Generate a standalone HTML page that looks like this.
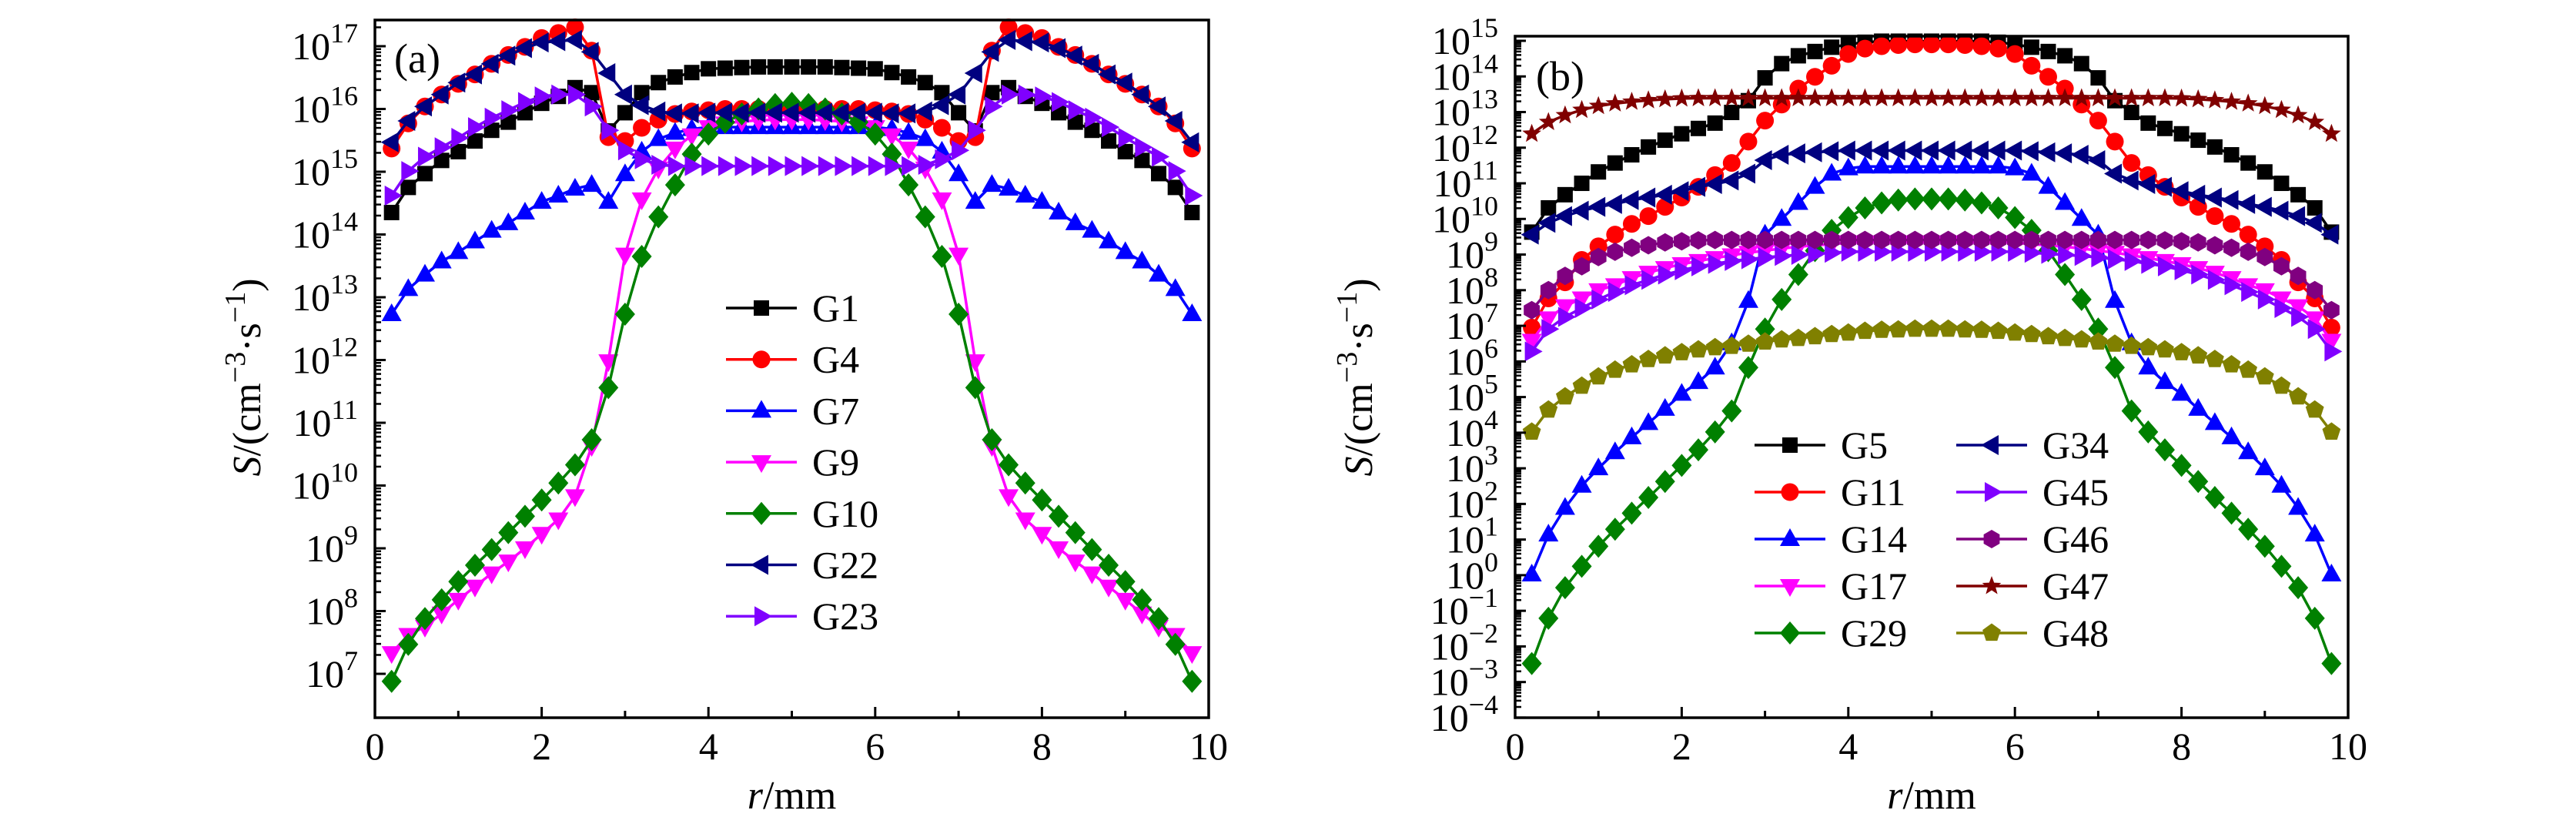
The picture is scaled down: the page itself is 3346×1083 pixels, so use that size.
<!DOCTYPE html>
<html><head><meta charset="utf-8"><style>
html,body{margin:0;padding:0;background:#fff;}
svg{display:block;}
svg text{font-family:"Liberation Serif","DejaVu Serif",serif;}
</style></head><body>
<svg id="fig" width="3346" height="1083" viewBox="0 0 3346 1083" xmlns="http://www.w3.org/2000/svg" font-family="Liberation Serif, DejaVu Serif, serif">
<rect x="0" y="0" width="3346" height="1083" fill="#fff"/>
<g id="pa"></g>
<g id="pb"></g>
</svg>
<script>
const NS="http://www.w3.org/2000/svg";
const FONT="Liberation Serif, DejaVu Serif, serif";
const rVals=[0.2,0.4,0.6,0.8,1.0,1.2,1.4,1.6,1.8,2.0,2.2,2.4,2.6,2.8,3.0,3.2,3.4,3.6,3.8,4.0,4.2,4.4,4.6,4.8,5.0,5.2,5.4,5.6,5.8,6.0,6.2,6.4,6.6,6.8,7.0,7.2,7.4,7.6,7.8,8.0,8.2,8.4,8.6,8.8,9.0,9.2,9.4,9.6,9.8];
const xTicks=[0,2,4,6,8,10];
// panel a: log10(S)
const aG1=[14.35,14.75,14.97,15.18,15.32,15.49,15.66,15.79,15.94,16.09,16.2,16.34,16.26,15.65,15.94,16.26,16.42,16.51,16.58,16.64,16.65,16.66,16.67,16.67,16.67,16.67,16.67,16.66,16.65,16.64,16.58,16.51,16.42,16.26,15.94,15.65,16.26,16.34,16.2,16.09,15.94,15.79,15.66,15.49,15.32,15.18,14.97,14.75,14.35];
const aG4=[15.37,15.77,16.04,16.23,16.4,16.55,16.72,16.86,16.99,17.13,17.21,17.3,16.93,15.55,15.49,15.7,15.83,15.92,15.96,15.98,16,16,16,16,16,16,16,16,16,15.98,15.96,15.92,15.83,15.7,15.49,15.55,16.93,17.3,17.21,17.13,16.99,16.86,16.72,16.55,16.4,16.23,16.04,15.77,15.37];
const aG7=[12.73,13.13,13.36,13.57,13.72,13.89,14.06,14.18,14.35,14.52,14.62,14.73,14.79,14.52,14.96,15.32,15.52,15.62,15.68,15.71,15.71,15.71,15.71,15.71,15.71,15.71,15.71,15.71,15.71,15.71,15.68,15.62,15.52,15.32,14.96,14.52,14.79,14.73,14.62,14.52,14.35,14.18,14.06,13.89,13.72,13.57,13.36,13.13,12.73];
const aG9=[7.33,7.62,7.75,7.96,8.18,8.39,8.6,8.79,9.0,9.23,9.46,9.83,10.63,11.98,13.68,14.56,15.05,15.37,15.58,15.71,15.77,15.8,15.82,15.83,15.83,15.83,15.82,15.8,15.77,15.71,15.58,15.37,15.05,14.56,13.68,11.98,10.63,9.83,9.46,9.23,9.0,8.79,8.6,8.39,8.18,7.96,7.75,7.62,7.33];
const aG10=[6.88,7.47,7.88,8.18,8.47,8.73,8.98,9.25,9.51,9.77,10.04,10.33,10.73,11.56,12.73,13.65,14.28,14.79,15.28,15.6,15.79,15.92,16.0,16.07,16.09,16.07,16.0,15.92,15.79,15.6,15.28,14.79,14.28,13.65,12.73,11.56,10.73,10.33,10.04,9.77,9.51,9.25,8.98,8.73,8.47,8.18,7.88,7.47,6.88];
const aG22=[15.47,15.81,16.04,16.23,16.42,16.55,16.72,16.85,16.97,17.06,17.08,17.1,16.91,16.57,16.23,16.06,15.96,15.93,15.93,15.94,15.94,15.94,15.94,15.94,15.94,15.94,15.94,15.94,15.94,15.94,15.93,15.93,15.96,16.06,16.23,16.57,16.91,17.1,17.08,17.06,16.97,16.85,16.72,16.55,16.42,16.23,16.04,15.81,15.47];
const aG23=[14.62,15.01,15.24,15.39,15.54,15.71,15.86,15.98,16.11,16.2,16.23,16.23,16.04,15.66,15.34,15.2,15.11,15.09,15.09,15.09,15.09,15.09,15.09,15.09,15.09,15.09,15.09,15.09,15.09,15.09,15.09,15.09,15.11,15.2,15.34,15.66,16.04,16.23,16.23,16.2,16.11,15.98,15.86,15.71,15.54,15.39,15.24,15.01,14.62];
// panel b: log10(S)
const bG5=[9.63,10.31,10.68,11.0,11.32,11.57,11.8,12.02,12.21,12.39,12.54,12.69,12.99,13.32,13.96,14.36,14.58,14.7,14.82,14.9,14.96,14.99,14.99,14.99,14.99,14.99,14.99,14.99,14.96,14.9,14.82,14.7,14.58,14.36,13.96,13.32,12.99,12.69,12.54,12.39,12.21,12.02,11.8,11.57,11.32,11.0,10.68,10.31,9.63];
const bG11=[6.95,7.77,8.22,8.85,9.23,9.56,9.86,10.08,10.34,10.6,10.9,11.23,11.57,12.17,12.76,13.21,13.66,13.99,14.3,14.63,14.78,14.85,14.88,14.9,14.9,14.9,14.88,14.85,14.78,14.63,14.3,13.99,13.66,13.21,12.76,12.17,11.57,11.23,10.9,10.6,10.34,10.08,9.86,9.56,9.23,8.85,8.22,7.77,6.95];
const bG14=[0.02,1.14,1.89,2.51,3.0,3.45,3.87,4.27,4.67,5.09,5.42,5.83,6.51,7.7,9.56,10.0,10.45,10.9,11.27,11.42,11.47,11.47,11.47,11.47,11.47,11.47,11.47,11.47,11.47,11.42,11.27,10.9,10.45,10.0,9.56,7.7,6.51,5.83,5.42,5.09,4.67,4.27,3.87,3.45,3.0,2.51,1.89,1.14,0.02];
const bG17=[6.58,7.21,7.55,7.77,8.0,8.14,8.34,8.49,8.62,8.73,8.82,8.9,8.98,9.05,9.11,9.17,9.22,9.26,9.29,9.34,9.34,9.34,9.34,9.34,9.34,9.34,9.34,9.34,9.34,9.34,9.29,9.26,9.22,9.17,9.11,9.05,8.98,8.9,8.82,8.73,8.62,8.49,8.34,8.14,8.0,7.77,7.55,7.21,6.58];
const bG29=[-2.48,-1.21,-0.35,0.25,0.81,1.29,1.74,2.18,2.63,3.08,3.52,4.02,4.61,5.83,6.91,7.74,8.44,9.11,9.68,10.04,10.31,10.45,10.53,10.56,10.56,10.56,10.53,10.45,10.31,10.04,9.68,9.11,8.44,7.74,6.91,5.83,4.61,4.02,3.52,3.08,2.63,2.18,1.74,1.29,0.81,0.25,-0.35,-1.21,-2.48];
const bG34=[9.56,9.89,10.08,10.23,10.34,10.42,10.53,10.6,10.68,10.78,10.9,10.98,11.08,11.27,11.65,11.8,11.84,11.87,11.9,11.92,11.92,11.92,11.92,11.92,11.92,11.92,11.92,11.92,11.92,11.92,11.9,11.87,11.84,11.8,11.65,11.27,11.08,10.98,10.9,10.78,10.68,10.6,10.53,10.42,10.34,10.23,10.08,9.89,9.56];
const bG45=[6.28,6.91,7.25,7.5,7.74,7.95,8.14,8.29,8.44,8.56,8.67,8.74,8.82,8.87,8.92,8.96,8.99,9.02,9.05,9.08,9.08,9.08,9.08,9.08,9.08,9.08,9.08,9.08,9.08,9.08,9.05,9.02,8.99,8.96,8.92,8.87,8.82,8.74,8.67,8.56,8.44,8.29,8.14,7.95,7.74,7.5,7.25,6.91,6.28];
const bG46=[7.44,8.0,8.4,8.67,8.93,9.08,9.19,9.26,9.34,9.37,9.4,9.41,9.41,9.41,9.41,9.41,9.41,9.41,9.41,9.41,9.41,9.41,9.41,9.41,9.41,9.41,9.41,9.41,9.41,9.41,9.41,9.41,9.41,9.41,9.41,9.41,9.41,9.41,9.4,9.37,9.34,9.26,9.19,9.08,8.93,8.67,8.4,8.0,7.44];
const bG47=[12.39,12.72,12.91,13.06,13.17,13.24,13.29,13.33,13.36,13.38,13.39,13.39,13.39,13.39,13.39,13.39,13.39,13.39,13.39,13.39,13.39,13.39,13.39,13.39,13.39,13.39,13.39,13.39,13.39,13.39,13.39,13.39,13.39,13.39,13.39,13.39,13.39,13.39,13.39,13.38,13.36,13.33,13.29,13.24,13.17,13.06,12.91,12.72,12.39];
const bG48=[4.02,4.64,5.01,5.31,5.57,5.76,5.91,6.06,6.16,6.25,6.33,6.39,6.43,6.49,6.55,6.61,6.65,6.7,6.76,6.8,6.85,6.88,6.89,6.91,6.91,6.91,6.89,6.88,6.85,6.8,6.76,6.7,6.65,6.61,6.55,6.49,6.43,6.39,6.33,6.25,6.16,6.06,5.91,5.76,5.57,5.31,5.01,4.64,4.02];
const aYTicks=[7,8,9,10,11,12,13,14,15,16,17];
const bYTicks=[-4,-3,-2,-1,0,1,2,3,4,5,6,7,8,9,10,11,12,13,14,15];

function el(tag,attrs,parent){const e=document.createElementNS(NS,tag);for(const k in attrs)e.setAttribute(k,attrs[k]);if(tag==='text')e.setAttribute('font-family',FONT);if(parent)parent.appendChild(e);return e;}

function marker(g,type,x,y,color){
  let e;
  if(type==='sq'){e=el('rect',{x:x-10,y:y-10,width:20,height:20,fill:color},g);}
  else if(type==='ci'){e=el('circle',{cx:x,cy:y,r:11.5,fill:color},g);}
  else if(type==='up'){e=el('polygon',{points:`${x},${y-14} ${x+13},${y+9} ${x-13},${y+9}`,fill:color},g);}
  else if(type==='dn'){e=el('polygon',{points:`${x},${y+14} ${x+13},${y-9} ${x-13},${y-9}`,fill:color},g);}
  else if(type==='lt'){e=el('polygon',{points:`${x-14},${y} ${x+9},${y-13} ${x+9},${y+13}`,fill:color},g);}
  else if(type==='rt'){e=el('polygon',{points:`${x+14},${y} ${x-9},${y-13} ${x-9},${y+13}`,fill:color},g);}
  else if(type==='di'){e=el('polygon',{points:`${x},${y-15} ${x+13},${y} ${x},${y+15} ${x-13},${y}`,fill:color},g);}
  else {
    let pts=[];
    if(type==='st'){for(let i=0;i<10;i++){const a=-Math.PI/2+i*Math.PI/5;const rr=i%2?5.5:13;pts.push((x+rr*Math.cos(a)).toFixed(1)+','+(y+rr*Math.sin(a)).toFixed(1));}}
    else if(type==='pe'){for(let i=0;i<5;i++){const a=-Math.PI/2+i*2*Math.PI/5;pts.push((x+12.5*Math.cos(a)).toFixed(1)+','+(y+12.5*Math.sin(a)).toFixed(1));}}
    else {for(let i=0;i<6;i++){const a=-Math.PI/2+i*Math.PI/3;pts.push((x+12*Math.cos(a)).toFixed(1)+','+(y+12*Math.sin(a)).toFixed(1));}}
    e=el('polygon',{points:pts.join(' '),fill:color},g);
  }
  
  
}

function panel(gid,cfg){
  const g=document.getElementById(gid);
  const X=r=>cfg.x0+(r-0)*(cfg.x1-cfg.x0)/10;
  const Y=L=>cfg.yRef+(cfg.LRef-L)*cfg.dec;
  cfg.series.forEach(s=>{
    const sg=el('g',{},g);
    
    
    const d=rVals.map((r,i)=>(i?'L':'M')+X(r).toFixed(1)+','+Y(s.v[i]).toFixed(1)).join('');
    const p=el('path',{d:d,fill:'none',stroke:s.c,'stroke-width':3.5},sg);
    
    
    rVals.forEach((r,i)=>marker(sg,s.m,X(r),Y(s.v[i]),s.c));
  });
  const fr=el('rect',{x:cfg.x0,y:cfg.top,width:cfg.x1-cfg.x0,height:cfg.bot-cfg.top,fill:'none',stroke:'#000','stroke-width':3.5},g);
  
  
  for(let r=1;r<10;r++){
    const len=(r%2===0)?14:9;
    el('line',{x1:X(r),y1:cfg.bot,x2:X(r),y2:cfg.bot-len,stroke:'#000','stroke-width':3},g);
  }
  xTicks.forEach(t=>{
    const tx=el('text',{x:X(t),y:cfg.bot+54,'text-anchor':'middle','font-size':50},g);
    tx.textContent=t;
    
    
  });
  cfg.yTicks.forEach((t,i)=>{
    const y=Y(t);
    el('line',{x1:cfg.x0,y1:y,x2:cfg.x0+14,y2:y,stroke:'#000','stroke-width':3},g);
    for(let k=2;k<=9;k++){const ym=y-Math.log10(k)*cfg.dec;if(ym>cfg.top)el('line',{x1:cfg.x0,y1:ym,x2:cfg.x0+8,y2:ym,stroke:'#000','stroke-width':2.5},g);}
    const tx=el('text',{x:cfg.x0-22,y:y+17,'text-anchor':'end','font-size':50},g);
    
    
    const a=el('tspan',{},tx);a.textContent='10';
    const b=el('tspan',{dy:-22,'font-size':36},tx);b.textContent=(t<0?'\u2212'+(-t):String(t));
  });
  const yt=el('text',{x:0,y:0,transform:`translate(${cfg.ylx},490) rotate(-90)`,'text-anchor':'middle','font-size':52},g);
  
  
  let t1=el('tspan',{'font-style':'italic'},yt);t1.textContent='S';
  let t2=el('tspan',{},yt);t2.textContent='/(cm';
  let t3=el('tspan',{dy:-20,'font-size':38},yt);t3.textContent='\u22123';
  let t4=el('tspan',{dy:20},yt);t4.textContent='\u00b7s';
  let t5=el('tspan',{dy:-20,'font-size':38},yt);t5.textContent='\u22121';
  let t6=el('tspan',{dy:20},yt);t6.textContent=')';
  const xt=el('text',{x:(cfg.x0+cfg.x1)/2,y:1050,'text-anchor':'middle','font-size':52},g);
  
  
  let u1=el('tspan',{'font-style':'italic'},xt);u1.textContent='r';
  let u2=el('tspan',{},xt);u2.textContent='/mm';
  const pl=el('text',{x:cfg.plx,y:cfg.ply,'font-size':54},g);
  pl.textContent=cfg.label;
  
  
  const lg=el('g',{},g);
  
  
  cfg.series.forEach((s,i)=>{
    const col=Math.floor(i/cfg.legRows),row=i%cfg.legRows;
    const lx=cfg.legX+col*cfg.legColW, ly=cfg.legY+row*cfg.legDy;
    const eg=el('g',{},lg);
    
    
    el('line',{x1:lx,y1:ly,x2:lx+92,y2:ly,stroke:s.c,'stroke-width':3.5},eg);
    marker(eg,s.m,lx+46,ly,s.c);
    const tx=el('text',{x:lx+112,y:ly+17,'font-size':50},eg);tx.textContent=s.name;
  });
}

panel('pa',{x0:487,x1:1570,top:26,bot:932,yRef:60,LRef:17,dec:81.5,yTicks:aYTicks,ylx:338,plx:512,ply:94,label:'(a)',
  legX:943,legY:400,legDy:66.7,legRows:7,legColW:0,
  series:[{name:'G1',v:aG1,c:'#000000',m:'sq'},{name:'G4',v:aG4,c:'#ff0000',m:'ci'},{name:'G7',v:aG7,c:'#0000ff',m:'up'},{name:'G9',v:aG9,c:'#ff00ff',m:'dn'},{name:'G10',v:aG10,c:'#008000',m:'di'},{name:'G22',v:aG22,c:'#000080',m:'lt'},{name:'G23',v:aG23,c:'#8000ff',m:'rt'}]});
panel('pb',{x0:1968,x1:3050,top:47,bot:932,yRef:53,LRef:15,dec:46.26,yTicks:bYTicks,ylx:1782,plx:1995,ply:117,label:'(b)',
  legX:2279,legY:578,legDy:61,legRows:5,legColW:262,
  series:[{name:'G5',v:bG5,c:'#000000',m:'sq'},{name:'G11',v:bG11,c:'#ff0000',m:'ci'},{name:'G14',v:bG14,c:'#0000ff',m:'up'},{name:'G17',v:bG17,c:'#ff00ff',m:'dn'},{name:'G29',v:bG29,c:'#008000',m:'di'},{name:'G34',v:bG34,c:'#000080',m:'lt'},{name:'G45',v:bG45,c:'#8000ff',m:'rt'},{name:'G46',v:bG46,c:'#800080',m:'hx'},{name:'G47',v:bG47,c:'#800000',m:'st'},{name:'G48',v:bG48,c:'#808000',m:'pe'}]});
</script>
</body></html>
